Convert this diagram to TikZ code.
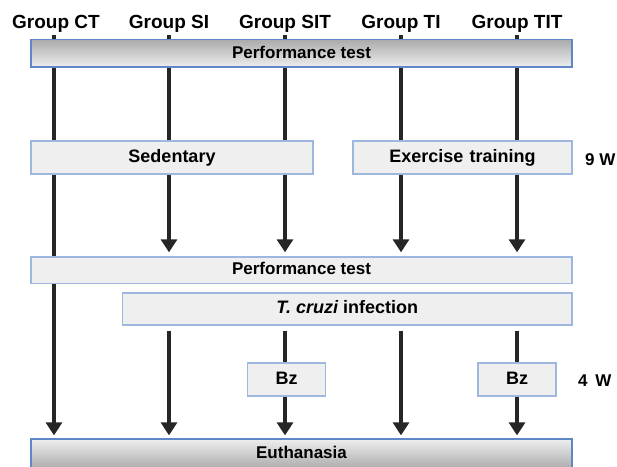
\documentclass[tikz,border=0pt]{standalone}
\usepackage{fontspec}
\setmainfont{Liberation Sans}
\usetikzlibrary{arrows.meta}
\definecolor{boxfill}{HTML}{EFEFEF}
\definecolor{boxline}{HTML}{9DB7DF}
\definecolor{barline}{HTML}{5F87C8}
\definecolor{arrowcol}{HTML}{262626}
\definecolor{shadedark}{HTML}{ABABAB}
\definecolor{shadelight}{HTML}{EEEEEE}
\pgfdeclarelayer{bg}
\pgfsetlayers{bg,main}
\begin{document}
\begin{tikzpicture}[x=1pt,y=-1pt,
  lbl/.style={font=\fontsize{19}{21}\selectfont\bfseries, inner sep=3pt, anchor=base},
  side/.style={font=\fontsize{17}{20}\selectfont\bfseries, inner sep=0pt, anchor=base west},
  stagebox/.style={draw=boxline, fill=boxfill, line width=1.3pt,
    font=\fontsize{18}{20}\selectfont\bfseries, text height=13pt, text depth=3.6pt, inner sep=0pt},
  perfbox/.style={stagebox, font=\fontsize{17}{20}\selectfont\bfseries},
  topbar/.style={perfbox, draw=barline, top color=shadedark, bottom color=shadelight},
  botbar/.style={perfbox, draw=barline, top color=shadelight, bottom color=shadedark},
  flow/.style={line width=4.5pt, draw=arrowcol},
  flowarr/.style={flow, -{Triangle[width=16pt,length=13pt]}},
]
\useasboundingbox (0,0) rectangle (617,466);

% group labels
\node[lbl] (gCT)  at (56,28)  {Group CT};
\node[lbl] (gSI)  at (169,28) {Group SI};
\node[lbl] (gSIT) at (285,28) {Group SIT};
\node[lbl] (gTI)  at (401,28) {Group TI};
\node[lbl] (gTIT) at (517,28) {Group TIT};

% stage boxes
\node[topbar, minimum width=541pt, minimum height=27.5pt] (perf1) at (301.5,53.3) {Performance test};
\node[stagebox, minimum width=282pt, minimum height=33pt] (sed) at (172,157.5) {Sedentary};
\node[stagebox, minimum width=219pt, minimum height=33pt] (ex) at (462.5,157.5) {Exercise\hspace{0.35em}training};
\node[perfbox, minimum width=541pt, minimum height=26.5pt] (perf2) at (301.5,270.2) {Performance test};
\node[stagebox, minimum width=449.5pt, minimum height=32pt] (tc) at (347.3,309) {{\itshape T. cruzi} infection};
\node[stagebox, minimum width=78pt, minimum height=33pt] (bz1) at (286.5,379.5) {Bz};
\node[stagebox, minimum width=78pt, minimum height=33pt] (bz2) at (517,379.5) {Bz};
\node[botbar, minimum width=541pt, minimum height=30pt] (euth) at (301.5,454) {Euthanasia};

\node[side] (w9) at (585,165) {9 W};
\node[side] (w4) at (578,386) {4\hspace{0.45em}W};

\begin{pgfonlayer}{bg}
% CT
\draw[flowarr, shorten >=3pt] (gCT.south -| 54,0) -- (54,0 |- euth.north);
% first phase
\draw[flowarr, shorten >=4pt] (gSI.south)  -- (gSI.south |- perf2.north);
\draw[flowarr, shorten >=4pt] (gSIT.south) -- (gSIT.south |- perf2.north);
\draw[flowarr, shorten >=4pt] (gTI.south)  -- (gTI.south |- perf2.north);
\draw[flowarr, shorten >=4pt] (gTIT.south) -- (gTIT.south |- perf2.north);
% second phase
\draw[flowarr, shorten <=5pt, shorten >=3pt] (gSI.south |- tc.south) -- (gSI.south |- euth.north);
\draw[flow, shorten <=5pt] (gSIT.south |- tc.south) -- (gSIT.south |- bz1.north);
\draw[flowarr, shorten >=3pt] (gSIT.south |- bz1.south) -- (gSIT.south |- euth.north);
\draw[flowarr, shorten <=5pt, shorten >=3pt] (gTI.south |- tc.south) -- (gTI.south |- euth.north);
\draw[flow, shorten <=5pt] (gTIT.south |- tc.south) -- (gTIT.south |- bz2.north);
\draw[flowarr, shorten >=3pt] (gTIT.south |- bz2.south) -- (gTIT.south |- euth.north);
\end{pgfonlayer}
\end{tikzpicture}
\end{document}
